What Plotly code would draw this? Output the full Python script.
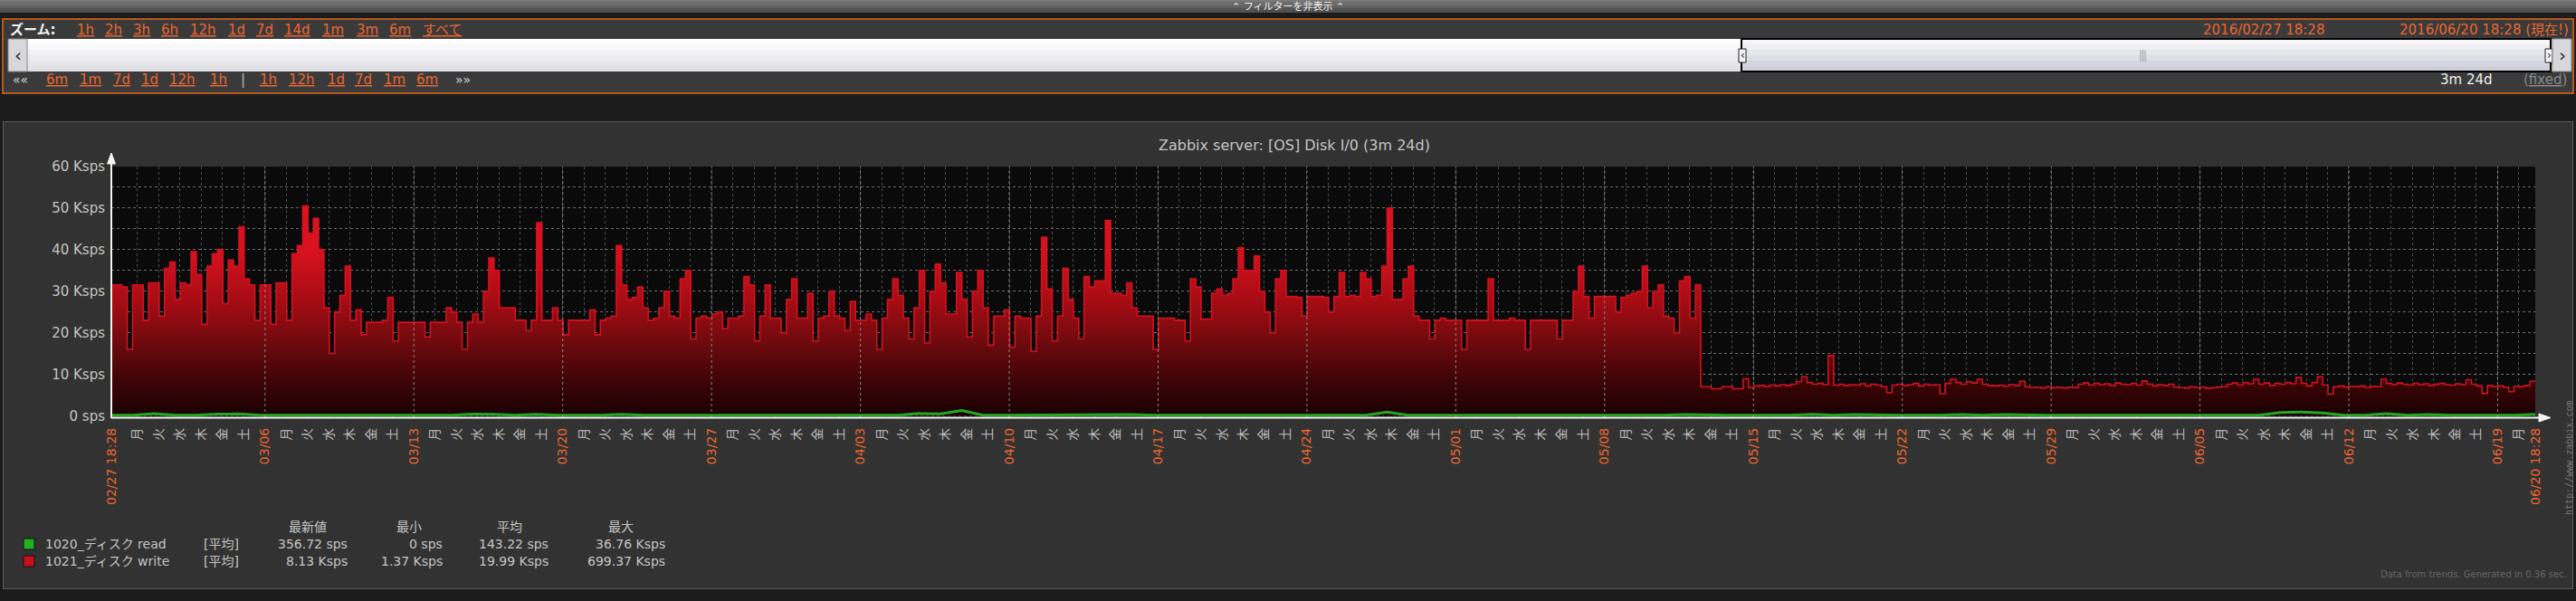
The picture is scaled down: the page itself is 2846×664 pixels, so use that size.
import plotly.graph_objects as go
import pandas as pd

# ---------------- data ----------------
START = "2016-02-27 18:28"
END = "2016-06-20 18:28"

# 1021_ディスク write, Ksps, one value every 6 hours from START
write_ksps = [
    31.5, 31.5, 31, 16, 31.5, 31.5, 23, 32, 32, 24,
    35.5, 37, 28, 32, 31.5, 39.5, 34, 22, 36, 39,
    40, 27, 37.5, 36, 45.5, 33, 31.5, 23, 31.5, 31.5,
    22, 32, 32, 23, 39, 41, 50.5, 44, 47.5, 40,
    26, 15, 25, 29, 36, 23, 25.5, 19.5, 22.5, 22.5,
    22.5, 23, 28.5, 18, 22.5, 22.5, 22.5, 22.5, 22.5, 19,
    22.5, 22.5,
    22.5, 26, 25, 22.5, 16, 22.5, 24.5, 22.5, 30, 38,
    35, 26, 26, 26, 23, 23, 20.5, 23, 46.5, 23,
    23, 26, 23, 19.5, 23, 23, 23, 23, 25.5, 19.5,
    23, 23.5, 24, 41, 31.5, 28, 28.5, 31, 26, 23,
    23.5, 26, 30, 24, 23.5, 33, 35, 18.5, 23.5, 24,
    23.5, 24.5, 25, 21, 23.5, 23.5, 24, 33.5, 31.5, 18,
    24,
    31.5, 23.5, 23.5, 20, 28, 33, 23.5, 23.5, 29.5, 18,
    23.5, 24, 30, 24, 23.5, 20.5, 27.5, 23, 23, 24.5,
    23, 16, 23.5, 28, 33, 29, 23.5, 18.5, 26, 35,
    17.5, 30, 36.5, 32, 24.5, 24.5, 34.5, 28, 19, 30,
    35, 26, 17, 24, 24, 25.5, 16.5, 24, 23.5, 23.5,
    15.5, 24, 43, 30.5, 18, 24, 35.5, 28, 23.5, 18.5,
    33.5, 31,
    32.5, 32.5, 47, 29.5, 29.5, 29, 32, 26, 24, 24,
    24, 16, 23.5, 23.5, 23.5, 23, 23, 18, 33, 31,
    23.3, 23.3, 29.5, 30.5, 29, 29.5, 33, 40.5, 35, 35,
    38.5, 30, 25, 20, 33, 35, 28.7, 28.7, 28.5, 24,
    28.7, 28.7, 28.7, 28.5, 25, 28.7, 34.5, 28.7, 29, 28.7,
    34.5, 33, 28.7, 29, 36, 50, 28, 28, 33, 36,
    24,
    23, 23, 18.5, 23, 23.5, 23, 23, 23, 16, 23,
    23, 23, 23, 33, 23, 23, 23, 23.5, 23, 23,
    16, 23, 23, 23, 23, 23, 18.5, 23, 23, 30,
    36, 28.7, 23.5, 28.7, 28.7, 28.7, 28.7, 25, 28.5, 29,
    29.5, 30, 36, 26, 30, 31.5, 24, 23.5, 20, 32.5,
    33.5, 23.5, 31.5, 7, 7, 6.5, 6.5, 7, 7, 6.5,
    6.5,
    8.9,
    6.8, 7.2, 7.3, 7.0, 7.4, 7.2, 7.5, 7.3, 7.6, 8.2,
    9.4, 8.0, 7.6, 7.8, 7.5, 14.5, 7.4, 7.6, 7.3, 7.5,
    7.4, 7.7, 7.2, 7.6, 7.4, 7.0, 5.6, 7.4, 7.6, 7.3,
    7.5, 7.8, 7.2, 7.6, 7.4, 7.5, 5.3, 7.8, 8.8, 8.0,
    7.6, 8.2, 7.9, 8.8, 7.6, 7.3, 7.2, 7.4, 7.1, 7.5,
    7.3, 8.3, 7.0, 6.8, 6.9, 6.7, 7.0, 6.8, 6.9, 6.7,
    6.9, 6.8, 7.6, 7.9, 7.4, 7.8, 7.5, 7.7, 7.3, 7.9,
    7.6, 7.5, 7.8, 7.4, 8.4, 7.6, 7.2, 7.5, 7.3, 7.6,
    6.9, 6.8, 6.7, 7.0, 6.8, 6.9, 6.6, 6.8, 6.9, 7.0,
    7.6, 7.9, 7.4, 8.0, 7.7, 8.8, 7.6, 7.9, 7.3, 7.8,
    7.6, 8.0, 7.7, 9.2, 7.8, 7.2, 8.0, 9.4, 7.4, 5.2,
    7.0, 7.2, 6.9, 7.1, 7.0, 7.2, 6.8, 7.1, 7.0, 8.8,
    7.8, 7.5, 7.9, 7.6, 7.4, 7.8, 7.5, 7.7, 7.3, 7.6,
    7.8, 7.5, 7.4, 7.7, 7.5, 8.7, 7.6, 7.2, 5.4, 7.3,
    7.0, 7.2, 6.9, 5.8, 7.1, 7.0, 7.3, 8.3, 8.6,
]

# 1020_ディスク read, Ksps, one value per day from START
read_ksps = [
    0.15, 0.16, 0.50, 0.15, 0.14, 0.42, 0.45, 0.15, 0.14, 0.15,
    0.14, 0.15, 0.15, 0.14, 0.15, 0.15, 0.14, 0.40, 0.38, 0.15,
    0.35, 0.15, 0.14, 0.15, 0.35, 0.15, 0.14, 0.15, 0.15, 0.14,
    0.15, 0.15, 0.14, 0.15, 0.15, 0.14, 0.15, 0.16, 0.55, 0.45,
    1.30, 0.15, 0.14, 0.15, 0.15, 0.14, 0.15, 0.15, 0.32, 0.15,
    0.14, 0.15, 0.15, 0.14, 0.15, 0.15, 0.14, 0.15, 0.15, 0.15,
    0.90, 0.16, 0.15, 0.14, 0.15, 0.15, 0.14, 0.15, 0.15, 0.14,
    0.15, 0.15, 0.14, 0.15, 0.32, 0.15, 0.14, 0.15, 0.15, 0.15,
    0.38, 0.15, 0.32, 0.15, 0.14, 0.15, 0.15, 0.33, 0.15, 0.31,
    0.15, 0.14, 0.15, 0.15, 0.14, 0.15, 0.15, 0.14, 0.15, 0.15,
    0.14, 0.15, 0.80, 0.90, 0.70, 0.15, 0.14, 0.50, 0.15, 0.32,
    0.15, 0.14, 0.15, 0.15, 0.357,
]

y_ticks = [0, 5, 10, 15, 20, 25, 30, 35, 40, 45, 50, 55, 60]
y_labels = ["0 sps", "", "10 Ksps", "", "20 Ksps", "", "30 Ksps", "", "40 Ksps", "", "50 Ksps", "", "60 Ksps"]

legend_cols = ["最新値", "最小", "平均", "最大"]
legend_names = ["1020_ディスク read", "1021_ディスク write"]
legend_colors = ["#22b022", "#c8101a"]
legend_rows = [
    ["356.72 sps", "0 sps", "143.22 sps", "36.76 Ksps"],
    ["8.13 Ksps", "1.37 Ksps", "19.99 Ksps", "699.37 Ksps"],
]
zoom_links = ["1h", "2h", "3h", "6h", "12h", "1d", "7d", "14d", "1m", "3m", "6m", "すべて"]
back_links = ["6m", "1m", "7d", "1d", "12h", "1h"]
fwd_links = ["1h", "12h", "1d", "7d", "1m", "6m"]

# ---------------- styles ----------------
ORANGE = "#ec6630"
GRAY = "#c4c4c4"
FONT = "DejaVu Sans, Noto Sans CJK JP"
W, H = 2846, 664
PL, PR, PT, PB = 123, 2801, 184, 461
YMIN = -0.35


def PX(x):
    return (x - PL) / (PR - PL)


def PY(y):
    return (PB - y) / (PB - PT)


def orange(s):
    return '<span style="color:%s">%s</span>' % (ORANGE, s)


def ul(s):
    return '<span style="text-decoration:underline">%s</span>' % s


t_write = pd.date_range(START, periods=len(write_ksps), freq="6h")
t_read = pd.date_range(START, periods=len(read_ksps), freq="24h")

days = pd.date_range("2016-02-29", "2016-06-20", freq="D")
WD = ["月", "火", "水", "木", "金", "土", "日"]
tickvals = [pd.Timestamp(START)] + list(days) + [pd.Timestamp(END)]
ticktext = ([orange("02/27 18:28")]
            + [orange(d.strftime("%m/%d")) if d.weekday() == 6 else WD[d.weekday()] for d in days]
            + [orange("06/20 18:28")])
sundays = [d for d in days if d.weekday() == 6]

fig = go.Figure()
fig.add_trace(go.Scatter(
    x=t_write, y=write_ksps, mode="lines", fill="tozeroy", line_shape="hv",
    line=dict(color="#d41220", width=1.6),
    fillgradient=dict(type="vertical", start=0, stop=40,
                      colorscale=[[0, "#1a0202"], [0.2, "#3c0406"], [0.45, "#700a0e"],
                                  [0.7, "#a80c14"], [1, "#d8121e"]]),
    hoverinfo="skip"))
fig.add_trace(go.Scatter(
    x=t_read, y=read_ksps, mode="lines", line=dict(color="#22a822", width=3),
    hoverinfo="skip"))

shapes = []
ann = []


def rect(x0, y0, x1, y1, fill, line=None, lw=0, layer="below"):
    shapes.append(dict(type="rect", xref="paper", yref="paper",
                       x0=PX(x0), x1=PX(x1), y0=PY(y0), y1=PY(y1),
                       fillcolor=fill, line=dict(color=line or fill, width=lw), layer=layer))


def text(x, y, s, size=14, color=GRAY, xa="left", ya="middle", angle=0, family=FONT):
    ann.append(dict(x=PX(x), y=PY(y), xref="paper", yref="paper", text=s, showarrow=False,
                    xanchor=xa, yanchor=ya, textangle=angle,
                    font=dict(size=size, color=color, family=family)))


# page background outside the graph panel
rect(0, 0, W, 134, "#1c1c1c")
rect(0, 651, W, H, "#1c1c1c")
rect(0, 134, 3, 651, "#1c1c1c")
rect(2843, 134, W, 651, "#1c1c1c")
# top bar gradient
for i, c in enumerate(["#7a7a7a", "#717171", "#686868", "#606060", "#585858", "#505050"]):
    rect(0, i * 2.3, W, (i + 1) * 2.3 + 0.3, c)
text(1423, 7, "⌃ フィルターを非表示 ⌃", size=11, color="#f0f0f0", xa="center")
# filter box
rect(3, 21, 2843, 103, "#3a3a3a", line="#b4581e", lw=2)
# scrollbar track with gradient
track = ["#fdfdfd", "#f8f8f9", "#f2f2f4", "#ececef", "#e6e6ea", "#e0e0e5"]
for i, c in enumerate(track):
    rect(9, 43 + i * 6, 2841, 43 + (i + 1) * 6, c)
rect(9, 43, 30, 79, "#d8d8dc", line="#8a8a8a", lw=1)
text(19.5, 61, "‹", size=20, color="#333333", xa="center")
# thumb
thumb = ["#f6f6f9", "#eeeef3", "#e6e6ed", "#dedee7", "#d6d6e1", "#cfcfdb"]
for i, c in enumerate(thumb):
    rect(1924, 43 + i * 6, 2818, 43 + (i + 1) * 6, c)
rect(1924, 43, 2818, 79, "rgba(0,0,0,0)", line="#000000", lw=2)
rect(1921, 54, 1929, 69, "#f4f4f4", line="#222222", lw=1)
rect(2812, 54, 2820, 69, "#f4f4f4", line="#222222", lw=1)
text(1925, 61, "‹", size=12, color="#222222", xa="center")
text(2816, 61, "›", size=12, color="#222222", xa="center")
for gx in (2365, 2367.5, 2370):
    shapes.append(dict(type="line", xref="paper", yref="paper", x0=PX(gx), x1=PX(gx),
                       y0=PY(55), y1=PY(68), line=dict(color="#9a9a9a", width=1), layer="below"))
rect(2820, 43, 2841, 79, "#d8d8dc", line="#8a8a8a", lw=1)
text(2830.5, 61, "›", size=20, color="#333333", xa="center")

# zoom row
text(9, 33, "<b>ズーム:</b>", size=15, color="#f2f2f2")
zoom_x = [83, 114, 145, 176, 208, 250, 281, 312, 354, 392, 428, 465]
for s, x in zip(zoom_links, zoom_x):
    text(x, 33, ul(s), size=15, color=ORANGE)
text(2570, 33, "2016/02/27 18:28", size=15, color=ORANGE, xa="right")
text(2840, 33, "2016/06/20 18:28 (現在!)", size=15, color=ORANGE, xa="right")
# navigation row
text(12, 88, "««", size=14, color="#d0d0d0")
for s, x in zip(back_links, [49, 86, 123, 154, 185, 230]):
    text(x, 88, ul(s), size=15, color=ORANGE)
text(268, 88, "|", size=15, color="#bbbbbb", xa="center")
for s, x in zip(fwd_links, [285, 317, 360, 390, 422, 458]):
    text(x, 88, ul(s), size=15, color=ORANGE)
text(501, 88, "»»", size=14, color="#d0d0d0")
text(2756, 88, "3m 24d", size=15, color="#f0f0f0", xa="right")
text(2838, 88, "(" + ul("fixed") + ")", size=15, color="#8a8a8a", xa="right")

# graph panel border
rect(3.5, 134.5, 2842.5, 650.5, "rgba(0,0,0,0)", line="#5c5c5c", lw=1, layer="above")

# title
text(1430, 160, "Zabbix server: [OS] Disk I/0 (3m 24d)", size=16, color=GRAY, xa="center")

# weekly brighter grid lines
for d in sundays:
    shapes.append(dict(type="line", xref="x", yref="paper", x0=d, x1=d, y0=0, y1=1,
                       line=dict(color="#888888", width=1, dash="dot"), layer="above"))

# axis extensions and arrows
shapes.append(dict(type="line", xref="paper", yref="paper", x0=PX(123), x1=PX(123),
                   y0=PY(462), y1=PY(178), line=dict(color="#f4f4f4", width=2)))
shapes.append(dict(type="path", xref="paper", yref="paper",
                   path="M %f %f L %f %f L %f %f Z" % (PX(118.5), PY(181), PX(123), PY(169), PX(127.5), PY(181)),
                   fillcolor="#f4f4f4", line=dict(color="#f4f4f4", width=1)))
shapes.append(dict(type="line", xref="paper", yref="paper", x0=PX(123), x1=PX(2808),
                   y0=PY(461.5), y1=PY(461.5), line=dict(color="#f4f4f4", width=2)))
shapes.append(dict(type="path", xref="paper", yref="paper",
                   path="M %f %f L %f %f L %f %f Z" % (PX(2805), PY(457), PX(2818), PY(461.5), PX(2805), PY(466)),
                   fillcolor="#f4f4f4", line=dict(color="#f4f4f4", width=1)))

# legend
for cx, s in zip([340, 452, 563, 686], legend_cols):
    text(cx, 582, s, size=14, color=GRAY, xa="center")
for r, (name, col, vals) in enumerate(zip(legend_names, legend_colors, legend_rows)):
    yy = 601 + r * 19
    rect(26, yy - 6, 38, yy + 6, col, line="#111111", lw=1, layer="above")
    text(48, yy, name, size=14, color=GRAY)
    text(223, yy, "[平均]", size=14, color=GRAY)
    for rx, v in zip([386, 491, 608, 737], vals):
        text(rx, yy, v, size=14, color=GRAY, xa="right")

text(2838, 634, "Data from trends. Generated in 0.36 sec.", size=10, color="#676767", xa="right")
text(2838, 506, "http://www.zabbix.com", size=10, color="#777777", xa="center", angle=-90,
     family="DejaVu Sans Mono")

fig.update_layout(
    width=W, height=H, margin=dict(l=PL, r=W - PR, t=PT, b=H - PB, pad=0),
    paper_bgcolor="#323232", plot_bgcolor="#0a0a0a", showlegend=False,
    shapes=shapes, annotations=ann, font=dict(family=FONT, color=GRAY),
    xaxis=dict(type="date", range=[pd.Timestamp(START), pd.Timestamp(END)],
               tickmode="array", tickvals=tickvals, ticktext=ticktext, tickangle=-90,
               tickfont=dict(size=14, color="#bdbdbd", family=FONT), ticks="",
               ticklabelstandoff=8,
               showgrid=True, gridcolor="#4c4c4c", griddash="dot", gridwidth=1,
               showline=False, zeroline=False, fixedrange=True),
    yaxis=dict(range=[YMIN, 60], tickmode="array", tickvals=y_ticks, ticktext=y_labels,
               tickfont=dict(size=15, color=GRAY, family=FONT), ticks="", ticklabelstandoff=6,
               showgrid=True, gridcolor="#6c6c6c", griddash="dot", gridwidth=1,
               showline=False, zeroline=False, fixedrange=True),
)

fig.write_html("out.html", config={"displayModeBar": False, "staticPlot": True},
               post_script="document.body.style.margin='0';document.body.style.padding='0';"
                           "document.body.style.overflow='hidden';")
